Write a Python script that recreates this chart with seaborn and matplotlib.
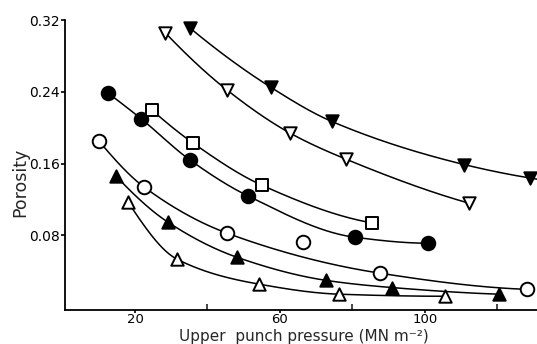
import numpy as np
import pandas as pd
import matplotlib
matplotlib.use("Agg")
import matplotlib.pyplot as plt
import seaborn as sns

# ---- data ----
tri_down_filled_x = [35.2, 57.5, 74.3, 110.8, 129.0]
tri_down_filled_y = [0.311, 0.245, 0.207, 0.159, 0.144]

tri_down_open_x = [28.3, 45.4, 62.8, 78.2, 112.1]
tri_down_open_y = [0.306, 0.242, 0.194, 0.165, 0.116]

circle_filled_x = [12.6, 21.7, 35.2, 51.2, 80.7, 100.8]
circle_filled_y = [0.2385, 0.210, 0.164, 0.124, 0.078, 0.0714]

square_open_x = [24.7, 36.0, 55.0, 85.4]
square_open_y = [0.2196, 0.183, 0.136, 0.094]

circle_open_x = [10.1, 22.5, 45.4, 66.3, 87.6, 128.1]
circle_open_y = [0.185, 0.134, 0.0826, 0.0725, 0.038, 0.020]

tri_up_filled_x = [14.8, 29.1, 48.1, 72.7, 90.9, 120.4]
tri_up_filled_y = [0.146, 0.0948, 0.0558, 0.030, 0.022, 0.0146]

tri_up_open_x = [18.1, 31.6, 54.2, 76.3, 105.5]
tri_up_open_y = [0.117, 0.0536, 0.0258, 0.0146, 0.0123]

x_ticks = [20, 60, 100]
x_minor = [40, 80, 120]
y_ticks = [0.08, 0.16, 0.24, 0.32]

series = [
    (tri_down_filled_x, tri_down_filled_y, "v", True, None, 131.0),
    (tri_down_open_x, tri_down_open_y, "v", False, None, None),
    (circle_filled_x, circle_filled_y, "o", True, None, None),
    (square_open_x, square_open_y, "s", False, None, None),
    (circle_open_x, circle_open_y, "o", False, [3], None),
    (tri_up_filled_x, tri_up_filled_y, "^", True, None, None),
    (tri_up_open_x, tri_up_open_y, "^", False, None, None),
]


def pchip(x, y, xq):
    """Monotone cubic (Fritsch-Carlson) curve through the given points."""
    x = np.asarray(x, float); y = np.asarray(y, float)
    h = np.diff(x); d = np.diff(y) / h
    n = len(x)
    m = np.zeros(n)
    for k in range(1, n - 1):
        if d[k - 1] * d[k] > 0:
            w1 = 2 * h[k] + h[k - 1]; w2 = h[k] + 2 * h[k - 1]
            m[k] = (w1 + w2) / (w1 / d[k - 1] + w2 / d[k])
    m[0] = ((2 * h[0] + h[1]) * d[0] - h[0] * d[1]) / (h[0] + h[1])
    if np.sign(m[0]) != np.sign(d[0]):
        m[0] = 0
    elif np.sign(d[0]) != np.sign(d[1]) and abs(m[0]) > abs(3 * d[0]):
        m[0] = 3 * d[0]
    m[-1] = ((2 * h[-1] + h[-2]) * d[-1] - h[-1] * d[-2]) / (h[-1] + h[-2])
    if np.sign(m[-1]) != np.sign(d[-1]):
        m[-1] = 0
    elif np.sign(d[-1]) != np.sign(d[-2]) and abs(m[-1]) > abs(3 * d[-1]):
        m[-1] = 3 * d[-1]
    out = np.empty_like(xq)
    for i, q in enumerate(xq):
        if q >= x[-1]:
            out[i] = y[-1] + m[-1] * (q - x[-1]); continue
        k = min(max(np.searchsorted(x, q) - 1, 0), n - 2)
        t = (q - x[k]) / h[k]
        h00 = 2 * t**3 - 3 * t**2 + 1; h10 = t**3 - 2 * t**2 + t
        h01 = -2 * t**3 + 3 * t**2; h11 = t**3 - t**2
        out[i] = h00 * y[k] + h10 * h[k] * m[k] + h01 * y[k + 1] + h11 * h[k] * m[k + 1]
    return out


sns.set_style("ticks")
plt.rcParams["font.family"] = ["DejaVu Sans"]

fig = plt.figure(figsize=(5.37, 3.44), dpi=100)
ax = fig.add_axes([65 / 537, 1 - 310 / 344, 1 - 65 / 537, 290 / 344])

for xs, ys, mk, filled, skip, xend in series:
    xs = np.array(xs); ys = np.array(ys)
    keep = np.ones(len(xs), bool)
    if skip:
        keep[skip] = False
    xe = xend if xend else xs.max()
    xc = np.linspace(xs.min(), xe, 300)
    curve = pd.DataFrame({"x": xc, "y": pchip(xs[keep], ys[keep], xc)})
    sns.lineplot(data=curve, x="x", y="y", ax=ax, color="black", lw=1.1,
                 sort=False, estimator=None)
    pts = pd.DataFrame({"x": xs, "y": ys})
    size = 95 if mk == "o" else 80
    sns.scatterplot(data=pts, x="x", y="y", ax=ax, marker=mk, s=size,
                    color="black" if filled else "white",
                    edgecolor="black", linewidth=1.4, zorder=5, clip_on=False)

ax.set_xlim(0.7, 130.9)
ax.set_ylim(-0.003, 0.32)
ax.set_xticks(x_ticks)
ax.set_xticklabels([str(v) for v in x_ticks])
ax.set_xticks(x_minor, minor=True)
ax.set_yticks(y_ticks)
ax.set_yticklabels([f"{v:.2f}" for v in y_ticks])
ax.tick_params(axis="y", which="major", direction="out", length=3,
               width=1.2, labelsize=10, colors="black", pad=0.5)
ax.tick_params(axis="x", which="major", direction="out", length=2.5,
               width=1.2, labelsize=9.5, colors="black", pad=0)
ax.tick_params(axis="x", which="minor", direction="in", length=4, width=1.2)
for s in ("top", "right"):
    ax.spines[s].set_visible(False)
for s in ("left", "bottom"):
    ax.spines[s].set_linewidth(1.3)
    ax.spines[s].set_color("black")

ax.set_xlabel("Upper  punch pressure (MN m\u207b\u00b2)", fontsize=11)
ax.xaxis.set_label_coords((304 - 65) / 472, -(343.5 - 310) / 290)
ax.xaxis.label.set_va("bottom")
ax.set_ylabel("Porosity", fontsize=12.5)
ax.yaxis.set_label_coords(-(65 - 20) / 472, (310 - 182) / 290)
ax.yaxis.label.set_va("center")

fig.savefig("out.png", dpi=100)
